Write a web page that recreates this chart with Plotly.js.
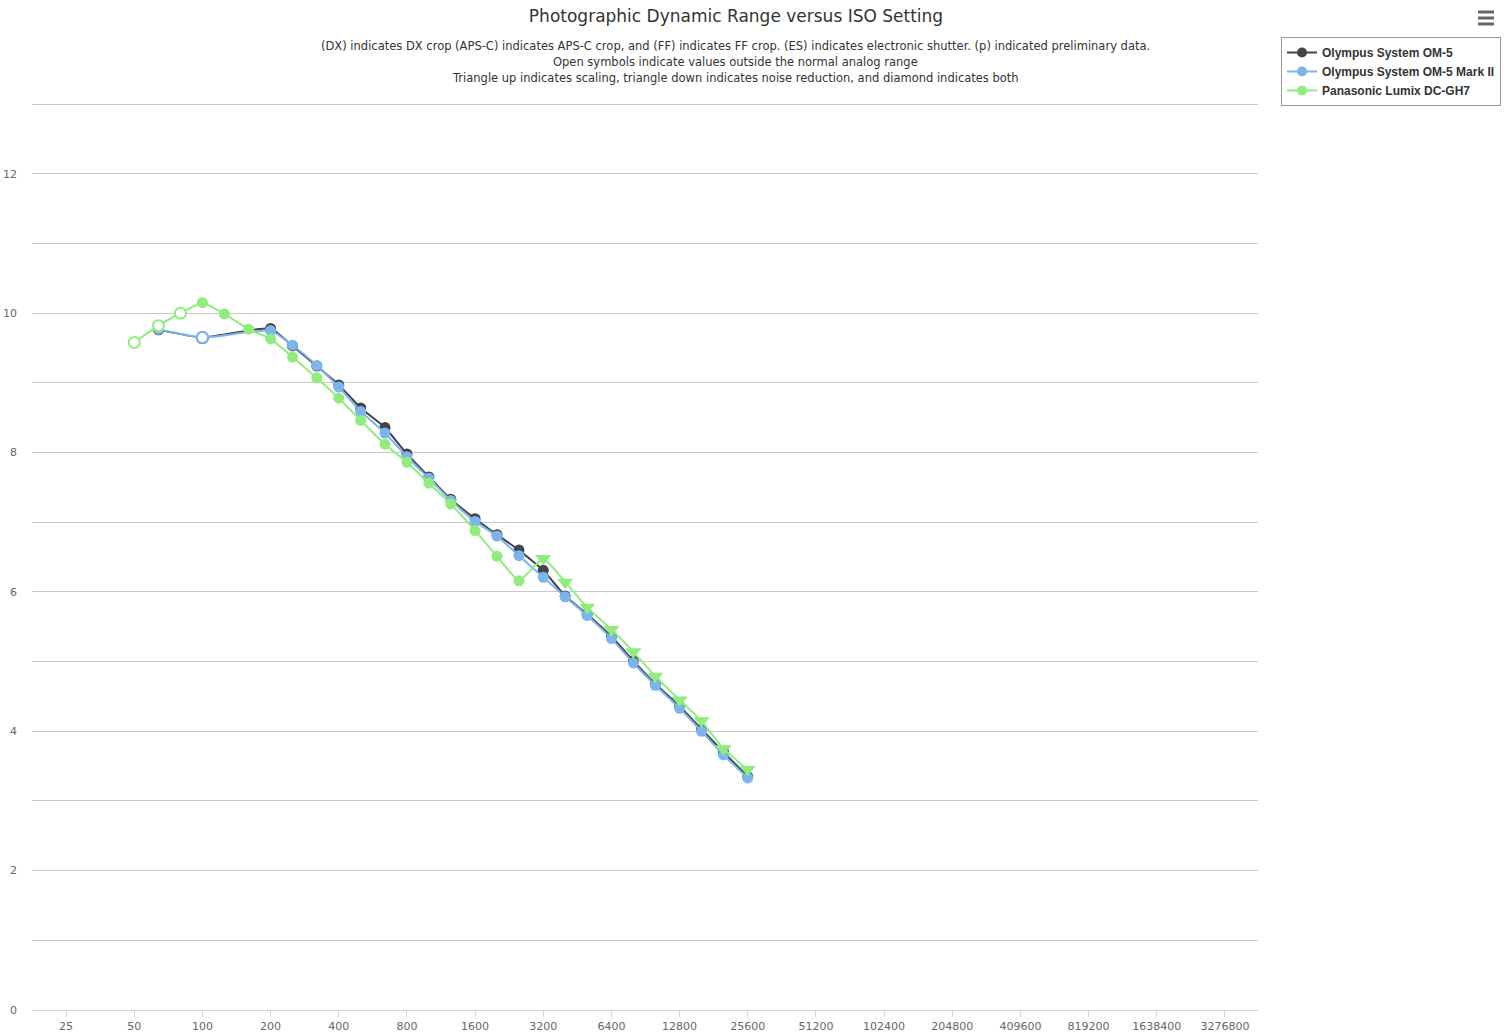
<!DOCTYPE html>
<html>
<head>
<meta charset="utf-8">
<script src="https://cdn.plot.ly/plotly-3.0.1.min.js"></script>
<style>html,body{margin:0;padding:0;background:#fff;}#chart{width:1505px;height:1036px;}</style>
</head>
<body>
<div id="chart"></div>
<script>
// ---- data ----
const om5Iso = [64,100,200,250,320,400,500,640,800,1000,1250,1600,2000,2500,3200,4000,5000,6400,8000,10000,12800,16000,20000,25600];
const om5DR  = [9.76,9.65,9.78,9.53,9.24,8.97,8.64,8.36,7.98,7.65,7.33,7.05,6.82,6.60,6.31,5.94,5.68,5.36,5.01,4.68,4.36,4.03,3.70,3.35];
const om5Open = [0,1,0,0,0,0,0,0,0,0,0,0,0,0,0,0,0,0,0,0,0,0,0,0];

const om5m2Iso = [64,100,200,250,320,400,500,640,800,1000,1250,1600,2000,2500,3200,4000,5000,6400,8000,10000,12800,16000,20000,25600];
const om5m2DR  = [9.77,9.65,9.75,9.54,9.25,8.94,8.59,8.28,7.94,7.63,7.31,7.01,6.80,6.52,6.21,5.93,5.66,5.33,4.98,4.66,4.33,4.00,3.66,3.33];
const om5m2Open = [0,1,0,0,0,0,0,0,0,0,0,0,0,0,0,0,0,0,0,0,0,0,0,0];

const gh7Iso = [50,64,80,100,125,160,200,250,320,400,500,640,800,1000,1250,1600,2000,2500,3200,4000,5000,6400,8000,10000,12800,16000,20000,25600];
const gh7DR  = [9.58,9.82,10.00,10.15,9.99,9.77,9.63,9.37,9.07,8.78,8.46,8.12,7.86,7.56,7.26,6.88,6.51,6.16,6.48,6.14,5.78,5.46,5.14,4.79,4.45,4.15,3.75,3.45];
const gh7Open = [1,1,1,0,0,0,0,0,0,0,0,0,0,0,0,0,0,0,0,0,0,0,0,0,0,0,0,0];
const gh7NR   = [0,0,0,0,0,0,0,0,0,0,0,0,0,0,0,0,0,0,1,1,1,1,1,1,1,1,1,1]; // noise reduction (triangle down)

const seriesNames = ["Olympus System OM-5","Olympus System OM-5 Mark II","Panasonic Lumix DC-GH7"];
const xTickVals = [25,50,100,200,400,800,1600,3200,6400,12800,25600,51200,102400,204800,409600,819200,1638400,3276800];
const yTickVals = [0,1,2,3,4,5,6,7,8,9,10,11,12,13];
const yTickText = ["0","","2","","4","","6","","8","","10","","12",""];

const titleText = "Photographic Dynamic Range versus ISO Setting";
const subtitleLines = [
  "(DX) indicates DX crop (APS-C) indicates APS-C crop, and (FF) indicates FF crop. (ES) indicates electronic shutter. (p) indicated preliminary data.",
  "Open symbols indicate values outside the normal analog range",
  "Triangle up indicates scaling, triangle down indicates noise reduction, and diamond indicates both"
];

// ---- styles ----
const colors = ["#434348","#7cb5ec","#90ed7d"];
const FONT = "DejaVu Sans, Verdana, sans-serif";
const LEGFONT = "Liberation Sans, Arial, sans-serif";

function mkTrace(name, iso, dr, open, nr, color) {
  const sym = iso.map((_, i) => (nr && nr[i]) ? "triangle-down" : "circle");
  const fill = iso.map((_, i) => open[i] ? "#ffffff" : color);
  const lw = iso.map((_, i) => open[i] ? 2 : 0);
  const sz = iso.map((_, i) => (nr && nr[i]) ? 14 : 11);
  return {
    type: "scatter", mode: "lines+markers", name: name, showlegend: false,
    x: iso, y: dr,
    line: {color: color, width: 2, shape: "spline", smoothing: 0.4},
    marker: {symbol: sym, color: fill, size: sz, opacity: 1, line: {color: color, width: lw}},
    hoverinfo: "x+y+name"
  };
}
function legendTrace(name, color) {
  return {
    type: "scatter", mode: "lines+markers", name: name,
    x: [null], y: [null],
    line: {color: color, width: 2},
    marker: {symbol: "circle", color: color, size: 10}
  };
}

const data = [
  mkTrace(seriesNames[0], om5Iso, om5DR, om5Open, null, colors[0]),
  mkTrace(seriesNames[1], om5m2Iso, om5m2DR, om5m2Open, null, colors[1]),
  mkTrace(seriesNames[2], gh7Iso, gh7DR, gh7Open, gh7NR, colors[2]),
  legendTrace(seriesNames[0], colors[0]),
  legendTrace(seriesNames[1], colors[1]),
  legendTrace(seriesNames[2], colors[2])
];

const L = 32, R = 247, T = 102, B = 26, W = 1505, H = 1036;
const pw = W - L - R, ph = H - T - B;
const px = x => (x - L) / pw;
const py = y => (H - B - y) / ph;

const annotations = subtitleLines.map((t, i) => ({
  text: t, xref: "paper", yref: "paper", x: px(736), y: py(46 + 16 * i),
  xanchor: "center", yanchor: "middle", showarrow: false,
  font: {family: FONT, size: 11.5, color: "#333333"}
}));

const shapes = [12, 18, 24].map(yy => ({
  type: "line", xref: "paper", yref: "paper",
  x0: px(1478), x1: px(1494), y0: py(yy), y1: py(yy),
  line: {color: "#666666", width: 3}
}));

const layout = {
  width: W, height: H,
  margin: {l: L, r: R, t: T, b: B, pad: 0, autoexpand: false},
  paper_bgcolor: "#ffffff", plot_bgcolor: "#ffffff",
  title: {text: titleText, xref: "container", yref: "container", x: 736 / W, y: 1 - 16 / H,
          xanchor: "center", yanchor: "middle", font: {family: FONT, size: 17, color: "#333333"}},
  showlegend: true,
  legend: {x: px(1281), y: py(37), xanchor: "left", yanchor: "top",
           bordercolor: "#999999", borderwidth: 1, bgcolor: "#ffffff",
           font: {family: LEGFONT, size: 12, color: "#333333", weight: "bold"},
           tracegroupgap: 0, itemwidth: 30, traceorder: "normal"},
  xaxis: {
    type: "log", range: [Math.log10(25 / Math.SQRT2), Math.log10(3276800 * Math.pow(2, 33 / 68))],
    tickvals: xTickVals, ticktext: xTickVals.map(String),
    showgrid: false, zeroline: false, showline: true, linecolor: "#ccd6eb", linewidth: 1,
    ticks: "outside", ticklen: 6, tickcolor: "#ccd6eb", tickwidth: 1,
    tickfont: {family: FONT, size: 11, color: "#666666"}, fixedrange: true
  },
  yaxis: {
    range: [0, 13.03], tickvals: yTickVals, ticktext: yTickText,
    showgrid: true, gridcolor: "#c8c8c8", gridwidth: 1, zeroline: false, showline: false,
    ticks: "", ticklabelstandoff: 14,
    tickfont: {family: FONT, size: 11, color: "#666666"}, fixedrange: true
  },
  annotations: annotations,
  shapes: shapes,
  hovermode: "closest"
};

Plotly.newPlot("chart", data, layout, {displayModeBar: false, responsive: false});
</script>
</body>
</html>
